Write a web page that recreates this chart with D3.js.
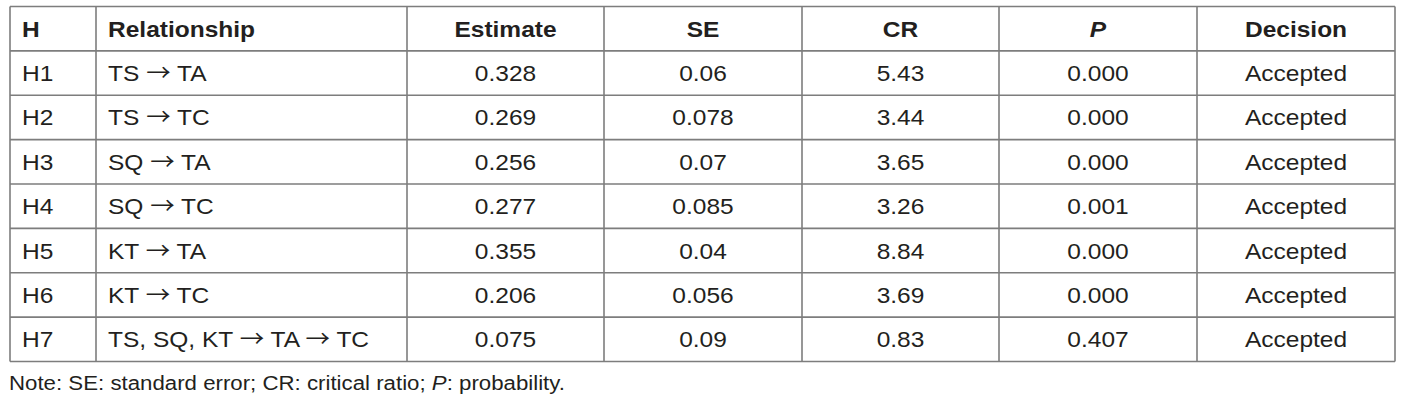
<!DOCTYPE html>
<html><head><meta charset="utf-8">
<script src="https://cdn.jsdelivr.net/npm/d3@7"></script>
<style>body{margin:0;background:#fff}svg{display:block}</style>
</head><body>
<script>
const headers = ["H","Relationship","Estimate","SE","CR","P","Decision"];
const hyp = ["H1","H2","H3","H4","H5","H6","H7"];
const relationships = ["TS → TA","TS → TC","SQ → TA","SQ → TC","KT → TA","KT → TC","TS, SQ, KT → TA → TC"];
const estimates = ["0.328","0.269","0.256","0.277","0.355","0.206","0.075"];
const se = ["0.06","0.078","0.07","0.085","0.04","0.056","0.09"];
const cr = ["5.43","3.44","3.65","3.26","8.84","3.69","0.83"];
const pvals = ["0.000","0.000","0.000","0.001","0.000","0.000","0.407"];
const decisions = ["Accepted","Accepted","Accepted","Accepted","Accepted","Accepted","Accepted"];
const note = [["Note: SE: standard error; CR: critical ratio; ",false],["P",true],[": probability.",false]];

const W=1415,H=407;
const colEdges=[10,96,407,604,802,999,1197,1395];
const align=["start","start","middle","middle","middle","middle","middle"];
const tableTop=6.5,tableBottom=361.5;
const textColor="#231f20", lineColor="#7d7d7d";
const fs=22.5, sx=1.09;
const arrowFont="'Noto Sans CJK JP', 'DejaVu Sans', sans-serif";

const rows=[headers].concat(hyp.map((h,i)=>[h,relationships[i],estimates[i],se[i],cr[i],pvals[i],decisions[i]]));
const y=d3.scaleBand().domain(d3.range(rows.length)).range([tableTop,tableBottom]);

const svg=d3.select("body").append("svg").attr("width",W).attr("height",H)
  .style("font-family","'Liberation Sans', Arial, sans-serif");

function fillText(el,t){
  const parts=t.split("→");
  parts.forEach((p,i)=>{
    if(i>0) el.append("tspan").style("font-family",arrowFont).text("→");
    el.append("tspan").text(p);
  });
}

rows.forEach((r,ri)=>{
  r.forEach((t,ci)=>{
    const x0=colEdges[ci],x1=colEdges[ci+1];
    const tx=align[ci]==="start"?x0+12:(x0+x1)/2;
    const ty=y(ri)+y.bandwidth()/2+8;
    const el=svg.append("text")
      .attr("transform",`translate(${tx},${ty}) scale(${sx},1)`)
      .attr("text-anchor",align[ci])
      .attr("font-size",fs)
      .attr("fill",textColor)
      .style("white-space","pre");
    fillText(el,t);
    if(ri===0){el.attr("font-weight","bold");}
    if(ri===0&&t==="P"){el.attr("font-style","italic");}
  });
});

const g=svg.append("g").attr("stroke",lineColor).attr("stroke-width",1.6).attr("fill","none");
d3.range(rows.length+1).forEach(i=>{
  const yy=i<rows.length?y(i):tableBottom;
  g.append("line").attr("x1",colEdges[0]).attr("x2",colEdges[colEdges.length-1]).attr("y1",yy).attr("y2",yy);
});
colEdges.forEach(x=>{
  g.append("line").attr("x1",x).attr("x2",x).attr("y1",tableTop).attr("y2",tableBottom);
});

const nt=svg.append("text")
  .attr("transform",`translate(9,390) scale(1.06,1)`)
  .attr("font-size",21).attr("fill",textColor);
note.forEach(([t,it])=>{
  nt.append("tspan").attr("font-style",it?"italic":"normal").text(t);
});
</script>
</body></html>
